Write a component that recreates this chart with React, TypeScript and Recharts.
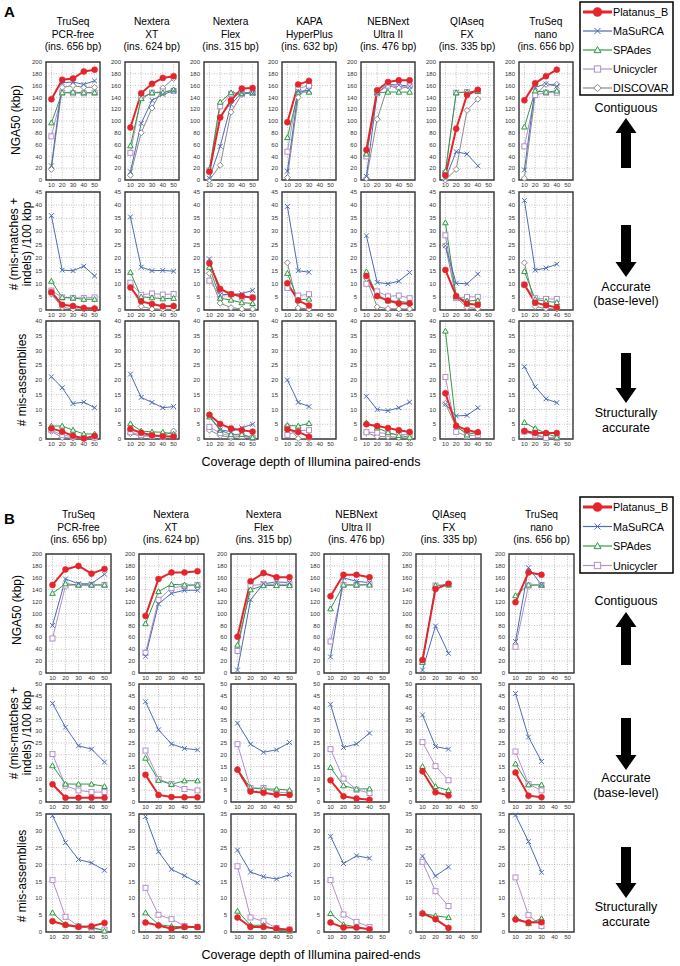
import React from 'react';
import { LineChart, Line, XAxis, YAxis, CartesianGrid, ReferenceArea } from 'recharts';

const FONT = "'Liberation Sans', Arial, Helvetica, sans-serif";

// ---------- categories ----------
const LIBS_A = [
  ['TruSeq', 'PCR-free', '(ins. 656 bp)'],
  ['Nextera', 'XT', '(ins. 624 bp)'],
  ['Nextera', 'Flex', '(ins. 315 bp)'],
  ['KAPA', 'HyperPlus', '(ins. 632 bp)'],
  ['NEBNext', 'Ultra II', '(ins. 476 bp)'],
  ['QIAseq', 'FX', '(ins. 335 bp)'],
  ['TruSeq', 'nano', '(ins. 656 bp)'],
];
const LIBS_B = [
  ['TruSeq', 'PCR-free', '(ins. 656 bp)'],
  ['Nextera', 'XT', '(ins. 624 bp)'],
  ['Nextera', 'Flex', '(ins. 315 bp)'],
  ['NEBNext', 'Ultra II', '(ins. 476 bp)'],
  ['QIAseq', 'FX', '(ins. 335 bp)'],
  ['TruSeq', 'nano', '(ins. 656 bp)'],
];
const COV_A = [
  [10, 20, 30, 40, 50],
  [10, 20, 30, 40, 50],
  [10, 20, 30, 40, 50],
  [10, 20, 30],
  [10, 20, 30, 40, 50],
  [10, 20, 30, 40],
  [10, 20, 30, 40],
];
const COV_B = [
  [10, 20, 30, 40, 50],
  [10, 20, 30, 40, 50],
  [10, 20, 30, 40, 50],
  [10, 20, 30, 40],
  [10, 20, 30],
  [10, 20, 30],
];
const X_TICKS = [10, 20, 30, 40, 50];
const Y_TICKS_NGA50 = [0, 20, 40, 60, 80, 100, 120, 140, 160, 180, 200];
const Y_TICKS_45 = [0, 5, 10, 15, 20, 25, 30, 35, 40, 45];
const Y_TICKS_40 = [0, 5, 10, 15, 20, 25, 30, 35, 40];
const Y_TICKS_50 = [0, 5, 10, 15, 20, 25, 30, 35, 40, 45, 50];
const Y_TICKS_35 = [0, 5, 10, 15, 20, 25, 30, 35];

// ---------- series values (one inner array per library) ----------
const A_NGA50: Record<string, number[][]> = {
  Platanus_B: [[137, 170, 172, 184, 187], [89, 147, 163, 173, 176], [14, 106, 135, 155, 156], [98, 162, 168], [51, 152, 166, 169, 169], [8, 87, 144, 153], [135, 164, 176, 187]],
  MaSuRCA: [[24, 165, 166, 162, 168], [14, 96, 135, 145, 151], [3, 57, 128, 148, 147], [15, 150, 152], [6, 148, 162, 161, 159], [2, 48, 44, 24], [17, 157, 163, 159]],
  SPAdes: [[97, 148, 149, 148, 148], [58, 138, 148, 148, 153], [18, 132, 148, 147, 148], [72, 149, 149], [44, 148, 149, 149, 149], [15, 148, 149, 150], [90, 151, 149, 151]],
  Unicycler: [[74, 148, 147, 147, 148], [46, 140, 148, 150, 151], [16, 125, 146, 146, 148], [48, 155, 160], [40, 147, 160, 158, 160], [12, 148, 149, 151], [57, 144, 148, 148]],
  DISCOVAR: [[18, 157, 160, 157, 157], [8, 80, 122, 156, 172], [0, 25, 115, 145, 150], [4, 140, 160], [3, 103, 160, 155, 158], [0, 18, 118, 137], [3, 144, 162, 162]],
};
const A_MISMATCH: Record<string, number[][]> = {
  Platanus_B: [[6.8, 2, 1.5, 0.8, 0.6], [8.6, 3.3, 2.3, 1.4, 1.5], [17.8, 8, 6, 5.3, 4.7], [10.2, 3.6, 1.7], [13, 5.3, 3.6, 2.5, 2.5], [15.3, 5.3, 2.4, 2], [9.6, 2.8, 1.8, 1]],
  MaSuRCA: [[36, 15.2, 15, 16.7, 13], [35.5, 16.3, 15, 15.1, 14.8], [19.5, 5.8, 6, 6.2, 7.5], [39.5, 15, 14.4], [28.3, 10.5, 10, 11, 14.3], [24.5, 10.2, 10, 13.7], [41.8, 15.2, 16, 17.5]],
  SPAdes: [[11, 4.8, 4.6, 4.1, 4.1], [14.4, 5, 4.7, 4.3, 4.5], [16.3, 4.5, 3.8, 2.8, 2.5], [14, 3.8, 4.2], [14.6, 5.5, 3.5, 3.3, 2.8], [33.3, 5, 3.5, 3.6], [14.7, 4.1, 3.3, 2.9]],
  Unicycler: [[7.4, 4.8, 4.6, 4.6, 4.8], [10.4, 5.8, 6.3, 5.9, 6.1], [11.2, 5.5, 6, 4.8, 4.8], [8.4, 5.5, 6], [10, 7.1, 5.2, 5.5, 4.5], [28.5, 4.5, 5, 5], [9.7, 4.5, 4.2, 4.2]],
  DISCOVAR: [[6.1, 1, 0.4, 0.3, 0.3], [9.8, 1.4, 0.4, 0.3, 0.3], [14, 2.6, 0.9, 0.4, 0.4], [18, 0.8, 0.3], [12, 1.2, 0.5, 0.4, 0.4], [24.5, 4.8, 1, 0.5], [18, 1.3, 0.6, 0.4]],
};
const A_MISASM: Record<string, number[][]> = {
  Platanus_B: [[3.6, 2.5, 1.1, 0.2, 1], [3.4, 2.1, 1.3, 0.9, 0.8], [8.2, 5.1, 3.6, 3, 2.5], [3.3, 2.4, 0.8], [5, 4.4, 3.7, 3, 2.4], [15.5, 4.5, 3, 2.3], [2.7, 2, 2, 2]],
  MaSuRCA: [[21.1, 17.4, 12, 12.5, 10.6], [22, 14.1, 12.4, 10.6, 11], [7.8, 3.1, 2.5, 3.8, 5], [20, 12.4, 11], [14.5, 10, 9.6, 10.6, 12.5], [11.8, 7.8, 8, 10.6], [24.5, 17.7, 13.6, 12.3]],
  SPAdes: [[4.4, 4.4, 3, 1.7, 1.7], [5.2, 2.7, 2.4, 2.3, 1.7], [7.5, 3, 1.5, 1.6, 0.5], [4.6, 4.4, 5.3], [5.5, 3.8, 2.2, 1.2, 0.6], [36.6, 4.5, 1.4, 2.4], [5.6, 3.6, 1.9, 0.6]],
  Unicycler: [[3, 1.3, 0.8, 0.5, 0.5], [2.3, 1.3, 1, 0.8, 1], [4.1, 2, 1, 1, 0.3], [1.4, 2.8, 3], [2.3, 2.2, 1.8, 1.5, 1.5], [21, 2.4, 1, 1.4], [2.5, 1.2, 0.4, 0.3]],
  DISCOVAR: [[2.6, 0.5, 0.3, 0.3, 0.3], [1.8, 1, 1, 1, 2.7], [3, 1.2, 0.5, 0.9, 0.5], [4.4, 0.2, 0.2], [2.2, 0.8, 0.8, 0.5, 0.2], [12.1, 4, 2, 2], [2.8, 1.5, 0.5, 0.3]],
};
const B_NGA50: Record<string, number[][]> = {
  Platanus_B: [[148, 174, 180, 167, 175], [96, 158, 169, 169, 171], [61, 154, 168, 161, 161], [129, 165, 165, 161], [22, 141, 150], [119, 169, 165]],
  MaSuRCA: [[80, 158, 150, 150, 166], [28, 116, 134, 139, 139], [5, 123, 150, 153, 152], [27, 160, 154, 152], [5, 79, 33], [53, 177, 148]],
  SPAdes: [[134, 150, 148, 148, 148], [83, 137, 149, 148, 148], [47, 140, 147, 147, 147], [108, 148, 148, 148], [18, 147, 148], [130, 148, 148]],
  Unicycler: [[58, 147, 148, 148, 148], [34, 123, 143, 146, 148], [37, 147, 149, 149, 149], [53, 148, 148, 149], [19, 147, 149], [44, 147, 148]],
};
const B_MISMATCH: Record<string, number[][]> = {
  Platanus_B: [[7.5, 1.8, 1.8, 1.8, 1.8], [11.5, 3, 2.1, 2, 2], [13.7, 4.5, 3.9, 3.1, 3], [9.2, 2.4, 1.5, 1], [13, 4.1, 2.8], [12.5, 2.7, 2]],
  MaSuRCA: [[41.8, 31.7, 23.8, 22.4, 16.9], [42.5, 30.6, 24.6, 22.7, 22.1], [33.4, 24.5, 21.1, 22.1, 25.2], [41.4, 23.1, 24.6, 29.2], [36.9, 23.5, 22.4], [46, 27.5, 17.2]],
  SPAdes: [[15.4, 7.6, 7.6, 7.6, 6.6], [18.6, 9.2, 7.5, 9, 9], [14, 6, 5.5, 5.5, 5], [14.6, 6.9, 5.5, 5.6], [15.1, 6.6, 4.9], [16.2, 7.3, 7.3]],
  Unicycler: [[20.3, 6.9, 4.9, 4.2, 4.2], [21.8, 9.7, 7.7, 5.5, 4.9], [24.5, 5.9, 5.9, 4.2, 3.8], [22.4, 9.9, 5.2, 3.8], [25.4, 15.2, 9.2], [21.4, 7.6, 4.9]],
};
const B_MISASM: Record<string, number[][]> = {
  Platanus_B: [[3.2, 2.1, 1.5, 1.7, 2.7], [2.8, 1.9, 1, 1.5, 1.5], [4.3, 1.5, 1.5, 1, 0.7], [2.8, 1.3, 1.3, 0.8], [5.5, 3.8, 1.2], [3.7, 2.8, 2.9]],
  MaSuRCA: [[34.5, 26.5, 21.5, 20.5, 18.3], [34.2, 23.8, 18.6, 16.7, 14.6], [24.3, 17.8, 16.4, 15.7, 17], [28.4, 20.3, 22.6, 21.9], [22.5, 16.6, 19.3], [34.7, 26.8, 17.7]],
  SPAdes: [[5.7, 2.2, 1.8, 1.5, 0.3], [5.7, 2.2, 1.7, 1.5, 1.5], [6.2, 2, 2, 0.5, 0.3], [5.5, 2.2, 1.5, 0.7], [5.5, 4.8, 4.3], [4.3, 2.5, 4]],
  Unicycler: [[15.4, 4.5, 1.7, 1, 0.7], [13.1, 5.1, 3.8, 1.8, 1.5], [19.5, 4.3, 3.2, 1.2, 0.7], [15.4, 5.2, 3, 1.5], [20.8, 12.1, 7.7], [16.2, 5, 1.8]],
};

// ---------- styles ----------
const STYLE: Record<string, { color: string; width: number; shape: string }> = {
  Platanus_B: { color: '#e4252b', width: 2, shape: 'circle' },
  MaSuRCA: { color: '#4c6cb3', width: 1, shape: 'x' },
  SPAdes: { color: '#2f9a45', width: 1, shape: 'triangle' },
  Unicycler: { color: '#b38fcb', width: 1, shape: 'square' },
  DISCOVAR: { color: '#8a8a8a', width: 1, shape: 'diamond' },
};
const ORDER_A = ['DISCOVAR', 'Unicycler', 'SPAdes', 'MaSuRCA', 'Platanus_B'];
const ORDER_B = ['Unicycler', 'SPAdes', 'MaSuRCA', 'Platanus_B'];
const LEGEND_A = ['Platanus_B', 'MaSuRCA', 'SPAdes', 'Unicycler', 'DISCOVAR'];
const LEGEND_B = ['Platanus_B', 'MaSuRCA', 'SPAdes', 'Unicycler'];

function drawShape(shape: string, cx: number, cy: number, color: string, s: number, key?: any) {
  switch (shape) {
    case 'circle':
      return <circle key={key} cx={cx} cy={cy} r={3 * s} fill={color} stroke={color} strokeWidth={0.5} />;
    case 'x': {
      const d = 2.4 * s;
      return <path key={key} d={`M${cx - d},${cy - d}L${cx + d},${cy + d}M${cx - d},${cy + d}L${cx + d},${cy - d}`} stroke={color} strokeWidth={1} fill="none" />;
    }
    case 'triangle': {
      const d = 2.8 * s;
      return <path key={key} d={`M${cx},${cy - d}L${cx + d},${cy + d * 0.75}L${cx - d},${cy + d * 0.75}Z`} stroke={color} strokeWidth={1} fill="#eef6ee" />;
    }
    case 'square': {
      const d = 2.5 * s;
      return <rect key={key} x={cx - d} y={cy - d} width={2 * d} height={2 * d} stroke={color} strokeWidth={1} fill="#fff" />;
    }
    case 'diamond': {
      const d = 3 * s;
      return <path key={key} d={`M${cx},${cy - d}L${cx + d},${cy}L${cx},${cy + d}L${cx - d},${cy}Z`} stroke={color} strokeWidth={1} fill="#fff" />;
    }
  }
  return <g key={key} />;
}

function makeDot(name: string) {
  const st = STYLE[name];
  return (p: any) => {
    const { cx, cy, index } = p;
    if (cx == null || cy == null || isNaN(cx) || isNaN(cy)) return <g key={`${name}-${index}`} />;
    return drawShape(st.shape, cx, cy, st.color, 1, `${name}-${index}`);
  };
}

const YW = 17;
const MT = 4;
const MR = 4;
const XH = 12;

function Cell(props: { left: number; top: number; width: number; height: number; yMax: number; yTicks: number[]; cov: number[]; table: Record<string, number[][]>; lib: number; order: string[] }) {
  const { left, top, width, height, yMax, yTicks, cov, table, lib, order } = props;
  const data = cov.map((c, j) => {
    const row: any = { cov: c };
    order.forEach((name) => {
      row[name] = table[name][lib][j];
    });
    return row;
  });
  return (
    <div style={{ position: 'absolute', left: left - YW, top: top - MT }}>
      <LineChart width={YW + width + MR} height={MT + height + XH} data={data} margin={{ top: MT, right: MR, bottom: 0, left: 0 }}>
        <CartesianGrid stroke="#a8a8a8" strokeDasharray="1 1.5" strokeWidth={0.7} />
        <XAxis dataKey="cov" type="number" domain={[5, 55]} ticks={X_TICKS} interval={0} axisLine={false} tickLine={false} tickSize={2} tickMargin={1} height={XH} tick={{ fontSize: 6, fill: '#333' }} />
        <YAxis type="number" domain={[0, yMax]} ticks={yTicks} interval={0} axisLine={false} tickLine={false} tickSize={3} tickMargin={1} width={YW} tick={{ fontSize: 6, fill: '#333' }} />
        <ReferenceArea x1={5} x2={55} y1={0} y2={yMax} fill="none" fillOpacity={0} stroke="#3a3a3a" strokeWidth={1.4} />
        {order.map((name) => (
          <Line key={name} type="linear" dataKey={name} stroke={STYLE[name].color} strokeWidth={STYLE[name].width} dot={makeDot(name)} activeDot={false} isAnimationActive={false} />
        ))}
      </LineChart>
    </div>
  );
}

// ---------- layout ----------
const A_LEFT0 = 46;
const A_STEP = 78.8;
const A_W = 54;
const A_ROWS = [
  { top: 62, h: 118 },
  { top: 192, h: 118 },
  { top: 321, h: 118 },
];
const B_LEFT0 = 46;
const B_STEP = 92.6;
const B_W = 65;
const B_ROWS = [
  { top: 554, h: 119 },
  { top: 684, h: 118 },
  { top: 814, h: 118 },
];

function Arrow({ cx, y1, y2, up }: { cx: number; y1: number; y2: number; up: boolean }) {
  const sw = 5;
  const hw = 10.5;
  const hh = 15;
  let d;
  if (up) {
    d = `M${cx},${y1} L${cx + hw},${y1 + hh} L${cx + sw},${y1 + hh} L${cx + sw},${y2} L${cx - sw},${y2} L${cx - sw},${y1 + hh} L${cx - hw},${y1 + hh} Z`;
  } else {
    d = `M${cx},${y2} L${cx + hw},${y2 - hh} L${cx + sw},${y2 - hh} L${cx + sw},${y1} L${cx - sw},${y1} L${cx - sw},${y2 - hh} L${cx - hw},${y2 - hh} Z`;
  }
  return <path d={d} fill="#000" />;
}

function Legend({ x, y, names, spacing, h }: { x: number; y: number; names: string[]; spacing: number; h: number }) {
  return (
    <g>
      <rect x={x} y={y} width={93} height={h} fill="#fff" stroke="#000" strokeWidth={1.5} />
      {names.map((n, i) => {
        const yy = y + 10 + i * spacing;
        const st = STYLE[n];
        return (
          <g key={n}>
            <line x1={x + 3} x2={x + 32} y1={yy} y2={yy} stroke={st.color} strokeWidth={n === 'Platanus_B' ? 3 : 1.2} />
            {drawShape(st.shape, x + 17.5, yy, st.color, n === 'Platanus_B' ? 1.5 : 1.25)}
            <text x={x + 33} y={yy + 4} fontSize={10.8} fill="#000">{n}</text>
          </g>
        );
      })}
    </g>
  );
}

function RotText({ x, y, lines, fs }: { x: number; y: number; lines: string[]; fs: number }) {
  return (
    <text transform={`translate(${x},${y}) rotate(-90)`} textAnchor="middle" fontSize={fs} fill="#000">
      {lines.map((l, i) => (
        <tspan key={i} x={0} dy={i === 0 ? 0 : fs * 1.05}>{l}</tspan>
      ))}
    </text>
  );
}

export default function App() {
  const cells: any[] = [];
  const aTables = [A_NGA50, A_MISMATCH, A_MISASM];
  const aTicks = [Y_TICKS_NGA50, Y_TICKS_45, Y_TICKS_40];
  const aMax = [200, 45, 40];
  LIBS_A.forEach((_, i) => {
    A_ROWS.forEach((r, k) => {
      cells.push(
        <Cell key={`a-${i}-${k}`} left={A_LEFT0 + A_STEP * i} top={r.top} width={A_W} height={r.h} yMax={aMax[k]} yTicks={aTicks[k]} cov={COV_A[i]} table={aTables[k]} lib={i} order={ORDER_A} />
      );
    });
  });
  const bTables = [B_NGA50, B_MISMATCH, B_MISASM];
  const bTicks = [Y_TICKS_NGA50, Y_TICKS_50, Y_TICKS_35];
  const bMax = [200, 50, 35];
  LIBS_B.forEach((_, i) => {
    B_ROWS.forEach((r, k) => {
      cells.push(
        <Cell key={`b-${i}-${k}`} left={B_LEFT0 + B_STEP * i} top={r.top} width={B_W} height={r.h} yMax={bMax[k]} yTicks={bTicks[k]} cov={COV_B[i]} table={bTables[k]} lib={i} order={ORDER_B} />
      );
    });
  });

  const ANN_X = 626;
  return (
    <div style={{ position: 'absolute', left: 0, top: 0, width: 680, height: 966, background: '#fff', fontFamily: FONT, overflow: 'hidden' }}>
      <svg width={680} height={966} style={{ position: 'absolute', left: 0, top: 0, fontFamily: FONT }}>
        <text x={4} y={17} fontSize={15} fontWeight="bold">A</text>
        <text x={4} y={524} fontSize={15} fontWeight="bold">B</text>
        {LIBS_A.map((t, i) => (
          <text key={`ta${i}`} x={A_LEFT0 + A_STEP * i + A_W / 2} y={25} textAnchor="middle" fontSize={10.2}>
            {t.map((l, j) => (
              <tspan key={j} x={A_LEFT0 + A_STEP * i + A_W / 2} dy={j === 0 ? 0 : 12.5}>{l}</tspan>
            ))}
          </text>
        ))}
        {LIBS_B.map((t, i) => (
          <text key={`tb${i}`} x={B_LEFT0 + B_STEP * i + B_W / 2} y={518} textAnchor="middle" fontSize={10.2}>
            {t.map((l, j) => (
              <tspan key={j} x={B_LEFT0 + B_STEP * i + B_W / 2} dy={j === 0 ? 0 : 12.5}>{l}</tspan>
            ))}
          </text>
        ))}
        <RotText x={20} y={120} lines={['NGA50 (kbp)']} fs={12} />
        <RotText x={18} y={244} lines={['# (mis-matches +', 'indels) /100 kbp']} fs={12} />
        <RotText x={26} y={380} lines={['# mis-assemblies']} fs={12} />
        <RotText x={21} y={610} lines={['NGA50 (kbp)']} fs={12} />
        <RotText x={18} y={733} lines={['# (mis-matches +', 'indels) /100 kbp']} fs={12} />
        <RotText x={26} y={876} lines={['# mis-assemblies']} fs={12} />
        <text x={311} y={466} textAnchor="middle" fontSize={12.5}>Coverage depth of Illumina paired-ends</text>
        <text x={311} y={959} textAnchor="middle" fontSize={12.5}>Coverage depth of Illumina paired-ends</text>

        <Legend x={580} y={2} names={LEGEND_A} spacing={19} h={93} />
        <Legend x={580} y={497} names={LEGEND_B} spacing={19.5} h={76} />

        <text x={ANN_X} y={112} textAnchor="middle" fontSize={12.5}>Contiguous</text>
        <Arrow cx={ANN_X} y1={118} y2={168} up={true} />
        <Arrow cx={ANN_X} y1={225} y2={277} up={false} />
        <text x={ANN_X} y={291} textAnchor="middle" fontSize={12.5}>Accurate</text>
        <text x={ANN_X} y={305} textAnchor="middle" fontSize={12.5}>(base-level)</text>
        <Arrow cx={ANN_X} y1={353} y2={403} up={false} />
        <text x={ANN_X} y={417} textAnchor="middle" fontSize={12.5}>Structurally</text>
        <text x={ANN_X} y={432} textAnchor="middle" fontSize={12.5}>accurate</text>

        <text x={ANN_X} y={605} textAnchor="middle" fontSize={12.5}>Contiguous</text>
        <Arrow cx={ANN_X} y1={612} y2={665} up={true} />
        <Arrow cx={ANN_X} y1={718} y2={770} up={false} />
        <text x={ANN_X} y={782} textAnchor="middle" fontSize={12.5}>Accurate</text>
        <text x={ANN_X} y={797} textAnchor="middle" fontSize={12.5}>(base-level)</text>
        <Arrow cx={ANN_X} y1={847} y2={898} up={false} />
        <text x={ANN_X} y={911} textAnchor="middle" fontSize={12.5}>Structurally</text>
        <text x={ANN_X} y={926} textAnchor="middle" fontSize={12.5}>accurate</text>
      </svg>
      {cells}
    </div>
  );
}
